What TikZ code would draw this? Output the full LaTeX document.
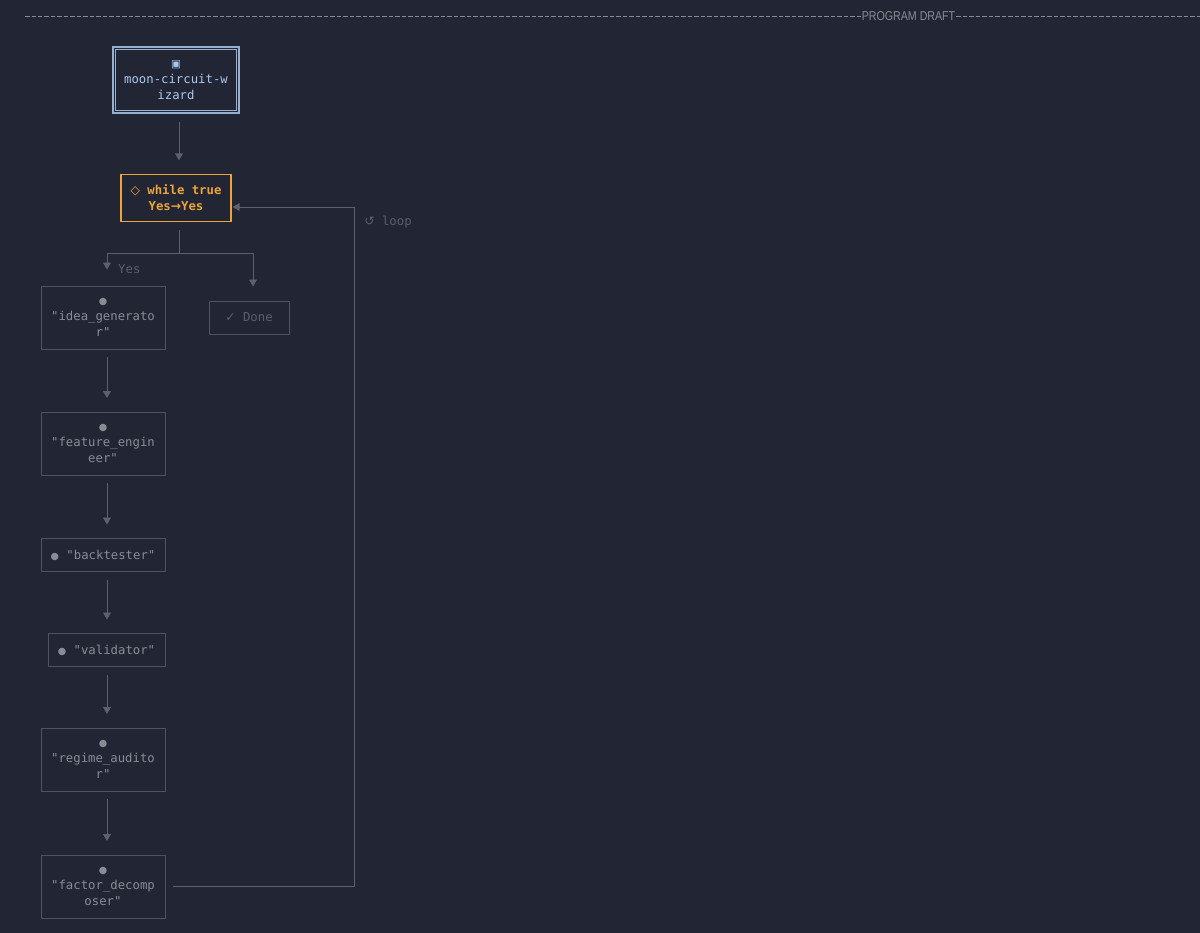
\documentclass[tikz,border=0pt]{standalone}
\usepackage{fontspec}
\setmainfont{DejaVu Sans Mono}[Ligatures=TeXOff]
\newfontfamily\symfont{DejaVu Sans}
\newfontfamily\draftfont{Liberation Sans}
\usetikzlibrary{arrows.meta,positioning}
\definecolor{bgdark}{HTML}{222533}
\definecolor{boxgray}{HTML}{50535D}
\definecolor{linegray}{HTML}{5E616B}
\definecolor{labelgray}{HTML}{8A8C95}
\definecolor{dimgray}{HTML}{5C5F69}
\definecolor{wizblue}{HTML}{A9C9EE}
\definecolor{loopamber}{HTML}{EBA43A}
\newcommand{\stagedot}{{\symfont\fontsize{5.5}{9.1}\selectfont ●}}

\begin{document}
\begin{tikzpicture}[on grid,
   every node/.style={font=\fontsize{7}{9.1}\selectfont},
   stage/.style={draw=boxgray,line width=0.5pt,text=labelgray,align=center,
      minimum width=2.48cm,minimum height=1.26cm,inner sep=0pt},
   flatstage/.style={stage,minimum height=0.66cm},
   flow/.style={draw=linegray,line width=0.5pt,-{Triangle[length=4pt,width=4.5pt]},
      shorten <=0.16cm,shorten >=0.27cm},
   rule/.style={labelgray,line width=0.4pt,dash pattern=on 0.09cm off 0.04cm}]
   \fill[bgdark] (0,0) rectangle (24,-18.66);
   \useasboundingbox (0,0) rectangle (24,-18.66);
   % top rule
   \node[text=labelgray,inner sep=0.5pt,font=\draftfont\fontsize{7.3}{9}\selectfont,xscale=0.83] (draft) at (18.17,-0.33) {PROGRAM DRAFT};
   \draw[rule] (0.5,-0.33) -- (draft.west);
   \draw[rule] (draft.east) -- (24,-0.33);
   % nodes
   \node[draw=wizblue!85!bgdark,line width=0.6pt,text=wizblue,align=center,
      minimum width=2.52cm,minimum height=1.32cm,inner sep=0pt]
      (wizard) at (3.52,-1.6) {{\symfont\fontsize{6}{9}\selectfont ▣}\\moon-circuit-w\\izard};
   \draw[wizblue!85!bgdark,line width=0.6pt] ([shift={(1.6pt,-1.6pt)}]wizard.north west) rectangle ([shift={(-1.6pt,1.6pt)}]wizard.south east);
   \node[draw=loopamber,line width=0.7pt,text=loopamber,align=center,
      minimum width=2.2cm,minimum height=0.94cm,inner sep=0pt,font=\bfseries\fontsize{7}{9.1}\selectfont]
      (while) [below=2.36cm of wizard] {{\symfont\mdseries ◇} while true\\Yes{\symfont →}Yes};
   \node[stage] (idea) [below left=2.39cm and 1.46cm of while] {\stagedot\\"idea\_generato\\r"};
   \node[flatstage,minimum width=1.6cm,text=dimgray] (done) [below right=2.39cm and 1.46cm of while] {{\symfont ✓} Done};
   \node[stage] (feature) [below=2.52cm of idea] {\stagedot\\"feature\_engin\\eer"};
   \node[flatstage] (backtester) [below=2.23cm of feature] {\stagedot{} "backtester"};
   \node[flatstage,minimum width=2.34cm] (validator) [below right=1.9cm and 0.07cm of backtester] {\stagedot{} "validator"};
   \node[stage] (regime) [below=4.09cm of backtester] {\stagedot\\"regime\_audito\\r"};
   \node[stage] (factor) [below=2.54cm of regime] {\stagedot\\"factor\_decomp\\oser"};
   \coordinate (fork) at (3.58,-5.06);
   \coordinate (loopcorner) at (7.08,-4.14);
   % connectors
   \draw[flow] ([xshift=.06cm]wizard.south) -- ([xshift=.06cm]while.north);
   \draw[draw=linegray,line width=0.5pt,shorten <=0.16cm] ([xshift=.06cm]while.south) -- (fork);
   \draw[flow,shorten <=0pt,shorten >=0.32cm] (fork) -| ([xshift=.08cm]idea.north);
   \draw[flow,shorten <=0pt,shorten >=0.28cm] (fork) -| ([xshift=.08cm]done.north);
   \node[text=dimgray,anchor=west] (yes) at (2.24,-5.38) {Yes};
   \draw[flow] ([xshift=.08cm]idea.south) -- ([xshift=.08cm]feature.north);
   \draw[flow] ([xshift=.08cm]feature.south) -- ([xshift=.08cm]backtester.north);
   \draw[flow] ([xshift=.08cm]backtester.south) -- ([xshift=.08cm]backtester.south |- validator.north);
   \draw[flow] ([xshift=.08cm]backtester.south |- validator.south) -- ([xshift=.08cm]regime.north);
   \draw[flow] ([xshift=.08cm]regime.south) -- ([xshift=.08cm]factor.north);
   \draw[flow,shorten >=0.02cm] (factor.east) -- (factor.east -| loopcorner) -- (loopcorner) -- (loopcorner -| while.east);
   \node[text=dimgray] (looplbl) at (7.76,-4.44) {{\symfont ↺} loop};
\end{tikzpicture}
\end{document}
